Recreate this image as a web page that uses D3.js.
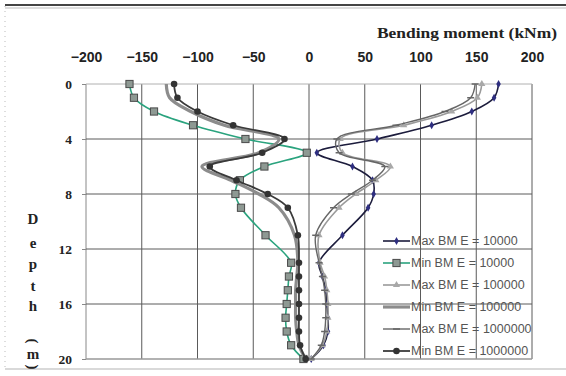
<!DOCTYPE html>
<html>
<head>
<meta charset="utf-8">
<script src="https://cdn.jsdelivr.net/npm/d3@7"></script>
<style>
  html, body { margin: 0; padding: 0; background: #fff; }
  svg { display: block; }
</style>
</head>
<body>
<svg id="chart" width="566" height="376"></svg>
<script>
// Axis ticks
const momentTicks = [-200, -150, -100, -50, 0, 50, 100, 150, 200];
const depthTicks = [0, 4, 8, 12, 16, 20];

// Depth stations (m) for each curve
const depthsA = [0, 1, 2, 3, 4, 5, 6, 7, 8, 9, 11, 13, 14, 15, 16, 17, 18, 19, 20];
const depthsB = [0, 1, 2, 3, 4, 5, 6, 7, 8, 9, 11, 13, 14, 15, 16, 17, 18, 19, 20];

// Bending moment envelopes (kNm)
const maxBM_E10000   = [170, 166, 146, 110, 61, 7, 39, 57, 58, 53, 30, 9, 12, 15, 16, 17, 17, 13, 2];
const minBM_E10000   = [-161, -157, -139, -104, -57, -2, -40, -62, -66, -61, -39, -16, -18, -19, -20, -21, -20, -16, -5];
const maxBM_E100000  = [155, 151, 128, 85, 28, 30, 73, 60, 42, 27, 9, 10, 14, 16, 17, 17, 16, 12, 2];
const minBM_E100000  = [-128, -125, -106, -76, -27, -45, -96, -70, -45, -27, -13, -10, -11, -12, -12, -12, -11, -9, -3];
const maxBM_E1000000 = [149, 145, 122, 78, 25, 27, 68, 57, 38, 22, 6, 9, 12, 14, 15, 15, 14, 11, 2];
const minBM_E1000000 = [-121, -118, -100, -68, -22, -42, -89, -65, -37, -19, -10, -9, -9, -9, -9, -9, -9, -8, -3];

const seriesNames = [
  "Max BM E = 10000", "Min BM E = 10000",
  "Max BM E = 100000", "Min BM E = 100000",
  "Max BM E = 1000000", "Min BM E = 1000000"
];

const series = [
  { name: seriesNames[0], depths: depthsA, values: maxBM_E10000,   stroke: "#1c1c3c", width: 1.6, marker: "diamond" },
  { name: seriesNames[1], depths: depthsB, values: minBM_E10000,   stroke: "#2aa37e", width: 1.6, marker: "square" },
  { name: seriesNames[2], depths: depthsA, values: maxBM_E100000,  stroke: "#9a9a9a", width: 1.6, marker: "triangle" },
  { name: seriesNames[3], depths: depthsA, values: minBM_E100000,  stroke: "#8c8c8c", width: 3.2, marker: "none" },
  { name: seriesNames[4], depths: depthsA, values: maxBM_E1000000, stroke: "#666666", width: 1.4, marker: "dash" },
  { name: seriesNames[5], depths: depthsA, values: minBM_E1000000, stroke: "#3a3a3a", width: 1.8, marker: "circle" }
];

const svg = d3.select("#chart");

const x = d3.scaleLinear().domain([-200, 200]).range([86, 532]);
const y = d3.scaleLinear().domain([0, 20]).range([84, 359]);

// Outer frame
svg.append("line").attr("x1", 5).attr("x2", 566).attr("y1", 5).attr("y2", 5)
  .attr("stroke", "#444").attr("stroke-width", 2);
svg.append("line").attr("x1", 5).attr("x2", 566).attr("y1", 8).attr("y2", 8)
  .attr("stroke", "#ddd").attr("stroke-width", 2);
svg.append("line").attr("x1", 5).attr("x2", 5).attr("y1", 6).attr("y2", 370)
  .attr("stroke", "#bbb").attr("stroke-dasharray", "1,4");
svg.append("line").attr("x1", 5).attr("x2", 566).attr("y1", 369).attr("y2", 369)
  .attr("stroke", "#ccc").attr("stroke-width", 1.5);

// Grid
const grid = svg.append("g");
grid.selectAll("line.v").data(momentTicks).join("line")
  .attr("x1", d => x(d)).attr("x2", d => x(d))
  .attr("y1", y(0)).attr("y2", y(20))
  .attr("stroke", d => (d === -200 ? "#888" : "#5a5a5a")).attr("stroke-width", 1);
grid.selectAll("line.h").data(depthTicks).join("line")
  .attr("x1", x(-200)).attr("x2", x(200))
  .attr("y1", d => y(d)).attr("y2", d => y(d))
  .attr("stroke", d => (d === 0 ? "#b0b0b0" : d === 20 ? "#999" : "#5a5a5a"))
  .attr("stroke-width", d => (d === 20 ? 1.6 : 1));

// Top axis labels
const xAxis = d3.axisTop(x).tickValues(momentTicks).tickSize(0).tickPadding(22);
svg.append("g").attr("transform", `translate(0,${y(0)})`).call(xAxis)
  .call(g => g.select(".domain").remove())
  .call(g => g.selectAll("text")
    .attr("font-family", "'Liberation Sans', Arial, sans-serif")
    .attr("font-weight", "bold").attr("font-size", 14).attr("fill", "#222"));

// Left axis labels
const yAxis = d3.axisLeft(y).tickValues(depthTicks).tickSize(4).tickPadding(10);
svg.append("g").attr("transform", `translate(${x(-200)},0)`).call(yAxis)
  .call(g => g.select(".domain").remove())
  .call(g => g.selectAll("line").attr("stroke", "#888"))
  .call(g => g.selectAll("text")
    .attr("font-family", "'Liberation Serif', 'Times New Roman', serif")
    .attr("font-weight", "bold").attr("font-size", 13.5).attr("fill", "#222"));

// Axis titles
svg.append("text").attr("x", 557).attr("y", 38).attr("text-anchor", "end")
  .attr("font-family", "'Liberation Serif', 'Times New Roman', serif")
  .attr("font-weight", "bold").attr("font-size", 15).attr("fill", "#222")
  .attr("textLength", 180).attr("lengthAdjust", "spacingAndGlyphs")
  .text("Bending moment (kNm)");

const depthLetters = [
  { t: "D", y: 219, rot: 0 }, { t: "e", y: 243, rot: 0 }, { t: "p", y: 264, rot: 0 },
  { t: "t", y: 286, rot: 0 }, { t: "h", y: 306, rot: 0 },
  { t: "(", y: 341, rot: 90 }, { t: "m", y: 354, rot: 0 }, { t: ")", y: 367, rot: 90 }
];
svg.append("g").selectAll("text").data(depthLetters).join("text")
  .attr("transform", d => `translate(33,${d.y}) rotate(${d.rot})`)
  .attr("text-anchor", "middle").attr("dominant-baseline", "central")
  .attr("font-family", "'Liberation Serif', 'Times New Roman', serif")
  .attr("font-weight", "bold").attr("font-size", 15).attr("fill", "#222")
  .text(d => d.t);

// Curves
const line = d3.line()
  .x(d => x(d[1])).y(d => y(d[0]))
  .curve(d3.curveCatmullRom.alpha(0.5));

function drawMarker(g, type, cx, cy) {
  if (type === "diamond") {
    g.append("path").attr("transform", `translate(${cx},${cy})`)
      .attr("d", d3.symbol(d3.symbolDiamond, 18)()).attr("fill", "#2e2e80");
  } else if (type === "square") {
    g.append("rect").attr("x", cx - 3.6).attr("y", cy - 3.6).attr("width", 7.2).attr("height", 7.2)
      .attr("fill", "#8e9993").attr("stroke", "#4a4a4a").attr("stroke-width", 1);
  } else if (type === "triangle") {
    g.append("path").attr("transform", `translate(${cx},${cy})`)
      .attr("d", d3.symbol(d3.symbolTriangle, 22)()).attr("fill", "#a8a8a8");
  } else if (type === "dash") {
    g.append("line").attr("x1", cx - 3.5).attr("x2", cx + 3.5).attr("y1", cy).attr("y2", cy)
      .attr("stroke", "#666").attr("stroke-width", 1.5);
  } else if (type === "circle") {
    g.append("circle").attr("cx", cx).attr("cy", cy).attr("r", 3.3).attr("fill", "#333");
  }
}

const plot = svg.append("g");
series.forEach(s => {
  const pts = s.depths.map((d, i) => [d, s.values[i]]);
  const g = plot.append("g");
  g.append("path").datum(pts).attr("d", line)
    .attr("fill", "none").attr("stroke", s.stroke).attr("stroke-width", s.width)
    .attr("stroke-linejoin", "round");
  pts.forEach(p => drawMarker(g, s.marker, x(p[1]), y(p[0])));
});

// Legend
const legend = svg.append("g");
series.forEach((s, i) => {
  const ly = 241 + i * 22;
  legend.append("line").attr("x1", 383).attr("x2", 410).attr("y1", ly).attr("y2", ly)
    .attr("stroke", s.stroke).attr("stroke-width", s.width);
  drawMarker(legend, s.marker, 396.5, ly);
  legend.append("text").attr("x", 411).attr("y", ly).attr("dominant-baseline", "central")
    .attr("font-family", "'Liberation Sans', Arial, sans-serif")
    .attr("font-size", 12.5).attr("fill", "#555")
    .text(s.name);
});
</script>
</body>
</html>
